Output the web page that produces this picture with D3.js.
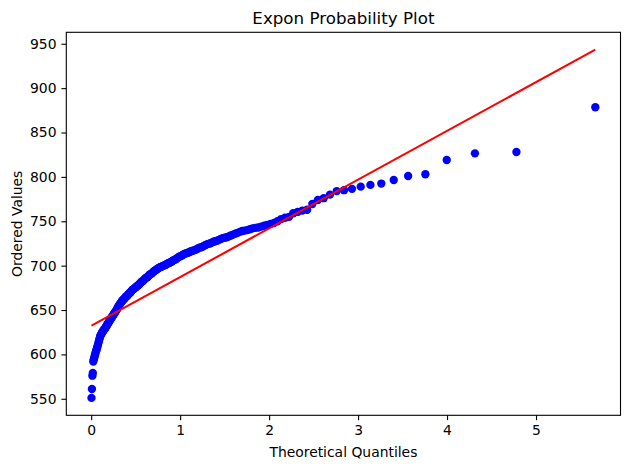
<!DOCTYPE html>
<html>
<head>
<meta charset="utf-8">
<script src="https://cdn.jsdelivr.net/npm/d3@7"></script>
<style>
body { margin: 0; background: #fff; }
text { font-family: "DejaVu Sans", sans-serif; fill: #000; }
</style>
</head>
<body>
<script>
/*Ordered sample values, lowest first*/
var orderedValues = [
	551, 561, 576, 579, 592, 594, 596, 598, 600, 602,
	603.5, 605, 607, 609, 611, 613, 615, 617, 619, 621,
	622, 623, 624, 625, 626, 627, 627.5, 628.5, 629, 630,
	631, 632, 633, 634, 635, 636, 637, 638, 639, 640,
	641, 642, 643, 644, 645, 646, 647, 648, 649, 650,
	651, 652.5, 654, 655, 656, 657, 658, 659, 660, 661,
	661.5, 662.5, 663, 664, 665, 665.5, 666, 667, 668, 668.5,
	669.5, 670, 671, 672, 673, 673.5, 674, 675, 675.5, 676,
	677, 677.5, 678, 679, 680, 681, 682, 682.5, 683, 684,
	685, 686, 686.5, 687, 688, 689, 690, 690.5, 691, 692,
	693, 694, 694.5, 695, 696, 697, 697.5, 698, 698.5, 699,
	699.5, 700, 700.5, 701, 702, 702.5, 703, 703.5, 704, 705,
	706, 706.5, 707, 708, 709, 710, 710.5, 711, 712, 713,
	713.5, 714, 714.5, 715, 716, 716.5, 717, 717.5, 718, 719,
	720, 720.5, 721, 722, 723, 724, 724.5, 725, 726, 727,
	727.5, 728, 729, 730, 731, 731.5, 732, 733, 734, 735,
	736, 737, 738, 739, 739.5, 740, 741, 742, 742.5, 743,
	744, 745, 746, 747, 748, 750, 752.5, 754, 755, 759,
	760.5, 762, 763, 769.5, 774, 776, 780, 784, 785, 786.5,
	789, 791, 792.5, 796.5, 801, 803, 819, 826.5, 828, 878.5
]

/*Fitted line*/
var fitSlope = 54.9
var fitIntercept = 632.2

var xTicks = [0, 1, 2, 3, 4, 5]
var yTicks = [550, 600, 650, 700, 750, 800, 850, 900, 950]

var titleText = "Expon Probability Plot"
var xLabelText = "Theoretical Quantiles"
var yLabelText = "Ordered Values"

/*Theoretical quantiles: exponential ppf of the order statistic medians*/
function expQuantiles(n){
	var out = []
	for(var i = 1; i <= n; i++){
		var m
		if(i == n){ m = Math.pow(0.5, 1 / n) }
		else if(i == 1){ m = 1 - Math.pow(0.5, 1 / n) }
		else { m = (i - 0.3175) / (n + 0.365) }
		out.push(-Math.log(1 - m))
	}
	return out
}

var quantiles = expQuantiles(orderedValues.length)
var points = orderedValues.map(function(v, i){ return {q: quantiles[i], v: v} })

var width = 630, height = 470
var margin = {top: 32.3, right: 9.5, bottom: 54.7, left: 66.3}
var plotW = width - margin.left - margin.right
var plotH = height - margin.top - margin.bottom

var qMin = d3.min(quantiles), qMax = d3.max(quantiles)
var lineEnds = [qMin, qMax].map(function(q){ return {q: q, v: fitIntercept + fitSlope * q} })

/*matplotlib style 5% padding*/
function padded(lo, hi){
	var p = (hi - lo) * 0.05
	return [lo - p, hi + p]
}

var vMin = Math.min(d3.min(orderedValues), lineEnds[0].v)
var vMax = Math.max(d3.max(orderedValues), lineEnds[1].v)

var xScale = d3.scaleLinear().domain(padded(qMin, qMax)).range([0, plotW])
var yScale = d3.scaleLinear().domain(padded(vMin, vMax)).range([plotH, 0])

var svg = d3.select("body").append("svg")
			.attr("width", width)
			.attr("height", height)

var chart = svg.append("g")
			.attr("transform", "translate(" + margin.left + "," + margin.top + ")")

var clip = svg.append("clipPath").attr("id", "plotclip")
clip.append("rect").attr("width", plotW).attr("height", plotH)

var inner = chart.append("g").attr("clip-path", "url(#plotclip)")

var line = d3.line()
			.x(function(d){ return xScale(d.q) })
			.y(function(d){ return yScale(d.v) })

inner.selectAll("circle")
	.data(points)
	.enter()
		.append("circle")
		.attr("cx", function(d){ return xScale(d.q) })
		.attr("cy", function(d){ return yScale(d.v) })
		.attr("r", 4.17)
		.attr("fill", "#0000ff")

inner.append("path")
	.datum(lineEnds)
	.attr("d", line)
	.attr("fill", "none")
	.attr("stroke", "#ff0000")
	.attr("stroke-width", 2.08)

/*Axes*/
var xAxis = d3.axisBottom(xScale).tickValues(xTicks).tickSize(4.9).tickPadding(4.9).tickFormat(d3.format("d"))
var yAxis = d3.axisLeft(yScale).tickValues(yTicks).tickSize(4.9).tickPadding(4.9).tickFormat(d3.format("d"))

var gx = chart.append("g")
	.attr("transform", "translate(0," + plotH + ")")
	.call(xAxis)

var gy = chart.append("g")
	.call(yAxis)

chart.selectAll(".domain").remove()
chart.selectAll(".tick line").attr("stroke", "#000").attr("stroke-width", 1.1)
chart.selectAll(".tick text").style("font-size", "13.9px").attr("fill", "#000")
	.style("font-family", "DejaVu Sans, sans-serif")

chart.append("rect")
	.attr("width", plotW)
	.attr("height", plotH)
	.attr("fill", "none")
	.attr("stroke", "#000")
	.attr("stroke-width", 1.1)

svg.append("text")
	.attr("x", margin.left + plotW / 2)
	.attr("y", margin.top - 8.3)
	.attr("text-anchor", "middle")
	.style("font-size", "16.7px")
	.text(titleText)

svg.append("text")
	.attr("x", margin.left + plotW / 2)
	.attr("y", 457)
	.attr("text-anchor", "middle")
	.style("font-size", "13.9px")
	.text(xLabelText)

svg.append("text")
	.attr("transform", "translate(22," + (margin.top + plotH / 2) + ") rotate(-90)")
	.attr("text-anchor", "middle")
	.style("font-size", "13.9px")
	.text(yLabelText)
</script>
</body>
</html>
